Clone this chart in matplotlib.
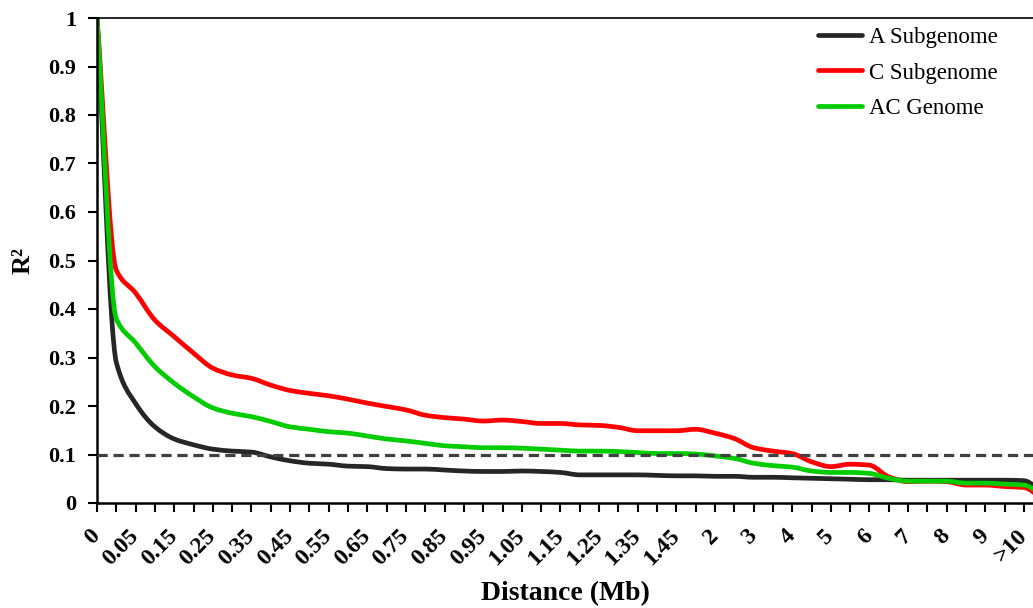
import numpy as np
import matplotlib
matplotlib.use("Agg")
import matplotlib.pyplot as plt
from matplotlib.path import Path
from matplotlib.patches import PathPatch
from matplotlib.lines import Line2D

plt.rcParams['font.family'] = ['Liberation Serif', 'DejaVu Serif']

# distance categories (Mb); only every second one is labelled
distance = ["0", "0.01", "0.05", "0.1", "0.15", "0.2", "0.25", "0.3", "0.35", "0.4",
            "0.45", "0.5", "0.55", "0.6", "0.65", "0.7", "0.75", "0.8", "0.85", "0.9",
            "0.95", "1", "1.05", "1.1", "1.15", "1.2", "1.25", "1.3", "1.35", "1.4",
            "1.45", "1.5", "2", "2.5", "3", "3.5", "4", "4.5", "5", "5.5",
            "6", "6.5", "7", "7.5", "8", "8.5", "9", "10", ">10", ""]

a_sub = [1.0, 0.29, 0.205, 0.157, 0.132, 0.12, 0.111, 0.107, 0.105, 0.095,
         0.087, 0.082, 0.08, 0.076, 0.075, 0.071, 0.070, 0.070, 0.068, 0.066,
         0.065, 0.065, 0.066, 0.065, 0.063, 0.058, 0.058, 0.058, 0.058, 0.057,
         0.056, 0.056, 0.055, 0.055, 0.053, 0.053, 0.052, 0.051, 0.050, 0.049,
         0.048, 0.048, 0.047, 0.047, 0.047, 0.047, 0.047, 0.047, 0.046, 0.02]
c_sub = [1.0, 0.48, 0.433, 0.377, 0.343, 0.309, 0.278, 0.264, 0.257, 0.243,
         0.232, 0.226, 0.221, 0.214, 0.206, 0.199, 0.192, 0.181, 0.176, 0.173,
         0.169, 0.171, 0.168, 0.164, 0.164, 0.161, 0.160, 0.156, 0.149, 0.149,
         0.149, 0.152, 0.144, 0.133, 0.114, 0.107, 0.102, 0.085, 0.075, 0.080,
         0.078, 0.054, 0.044, 0.045, 0.044, 0.037, 0.037, 0.034, 0.032, 0.007]
ac_gen = [1.0, 0.38, 0.33, 0.281, 0.247, 0.219, 0.196, 0.185, 0.178, 0.168,
          0.157, 0.152, 0.147, 0.144, 0.138, 0.132, 0.128, 0.123, 0.118, 0.116,
          0.114, 0.114, 0.113, 0.111, 0.109, 0.107, 0.107, 0.106, 0.104, 0.102,
          0.102, 0.101, 0.097, 0.092, 0.082, 0.077, 0.074, 0.066, 0.063, 0.063,
          0.061, 0.051, 0.045, 0.045, 0.045, 0.041, 0.041, 0.039, 0.037, 0.016]

series = [("A Subgenome", a_sub, "#262626"),
          ("C Subgenome", c_sub, "#ff0000"),
          ("AC Genome", ac_gen, "#00cc00")]
threshold = 0.1


def smooth_path(x, y):
    # smoothed line drawn as cubic beziers through every point,
    # tangents like a monotone (Fritsch-Carlson) spline so it does not overshoot
    x = np.asarray(x, float)
    y = np.asarray(y, float)
    d = np.diff(y) / np.diff(x)
    m = np.zeros_like(y)
    m[0], m[-1] = d[0], d[-1]
    for i in range(1, len(y) - 1):
        if d[i - 1] * d[i] > 0:
            m[i] = 2 / (1 / d[i - 1] + 1 / d[i])
    verts = [(x[0], y[0])]
    codes = [Path.MOVETO]
    for i in range(len(x) - 1):
        h = x[i + 1] - x[i]
        verts += [(x[i] + h / 3, y[i] + m[i] * h / 3),
                  (x[i + 1] - h / 3, y[i + 1] - m[i + 1] * h / 3),
                  (x[i + 1], y[i + 1])]
        codes += [Path.CURVE4] * 3
    return Path(verts, codes)


fig = plt.figure(figsize=(10.33, 6.08), dpi=100)
ax = fig.add_axes([97 / 1033, 1 - 503 / 608, 1 - 97 / 1033, 485 / 608])

xs = np.arange(len(distance))
handles = []
for name, vals, col in series:
    ax.add_patch(PathPatch(smooth_path(xs, vals), fill=False, edgecolor=col,
                           lw=3.4, capstyle='round', joinstyle='round', zorder=2))
    handles.append(Line2D([], [], color=col, lw=3.4, solid_capstyle='round', label=name))

ax.axhline(threshold, color='#404040', lw=2.3, ls=(0, (3.2, 1.8)), zorder=3)

ax.set_xlim(0, 48.47)
ax.set_ylim(0, 1)
ax.set_xticks(xs[:49])
ax.set_xticklabels([d if i % 2 == 0 else "" for i, d in enumerate(distance[:49])],
                   rotation=45, ha='right', va='center', rotation_mode='anchor',
                   fontsize=17, fontweight='bold')
ax.set_yticks(np.arange(0, 1.01, 0.1))
ax.set_yticklabels(["0", "0.1", "0.2", "0.3", "0.4", "0.5", "0.6", "0.7", "0.8", "0.9", "1"],
                   fontsize=16, fontweight='bold')
ax.tick_params(axis='both', direction='out', length=6.5, width=1.5, color='black')
ax.tick_params(axis='x', pad=15)
ax.tick_params(axis='y', pad=8.5)

for s in ['left', 'bottom']:
    ax.spines[s].set_linewidth(1.8)
ax.spines['top'].set_linewidth(1.2)
ax.spines['right'].set_visible(False)

ax.set_xlabel("Distance (Mb)", fontsize=20, fontweight='bold', labelpad=8)
ax.set_ylabel("R²", fontsize=19, fontweight='bold', labelpad=10)

fig.legend(handles=handles, loc='upper left', bbox_to_anchor=(0.792, 0.956),
           frameon=False, fontsize=16.5, handlelength=1.9, handletextpad=0.3,
           labelspacing=0.64, borderpad=0, borderaxespad=0)

fig.savefig("out.png", dpi=100)
